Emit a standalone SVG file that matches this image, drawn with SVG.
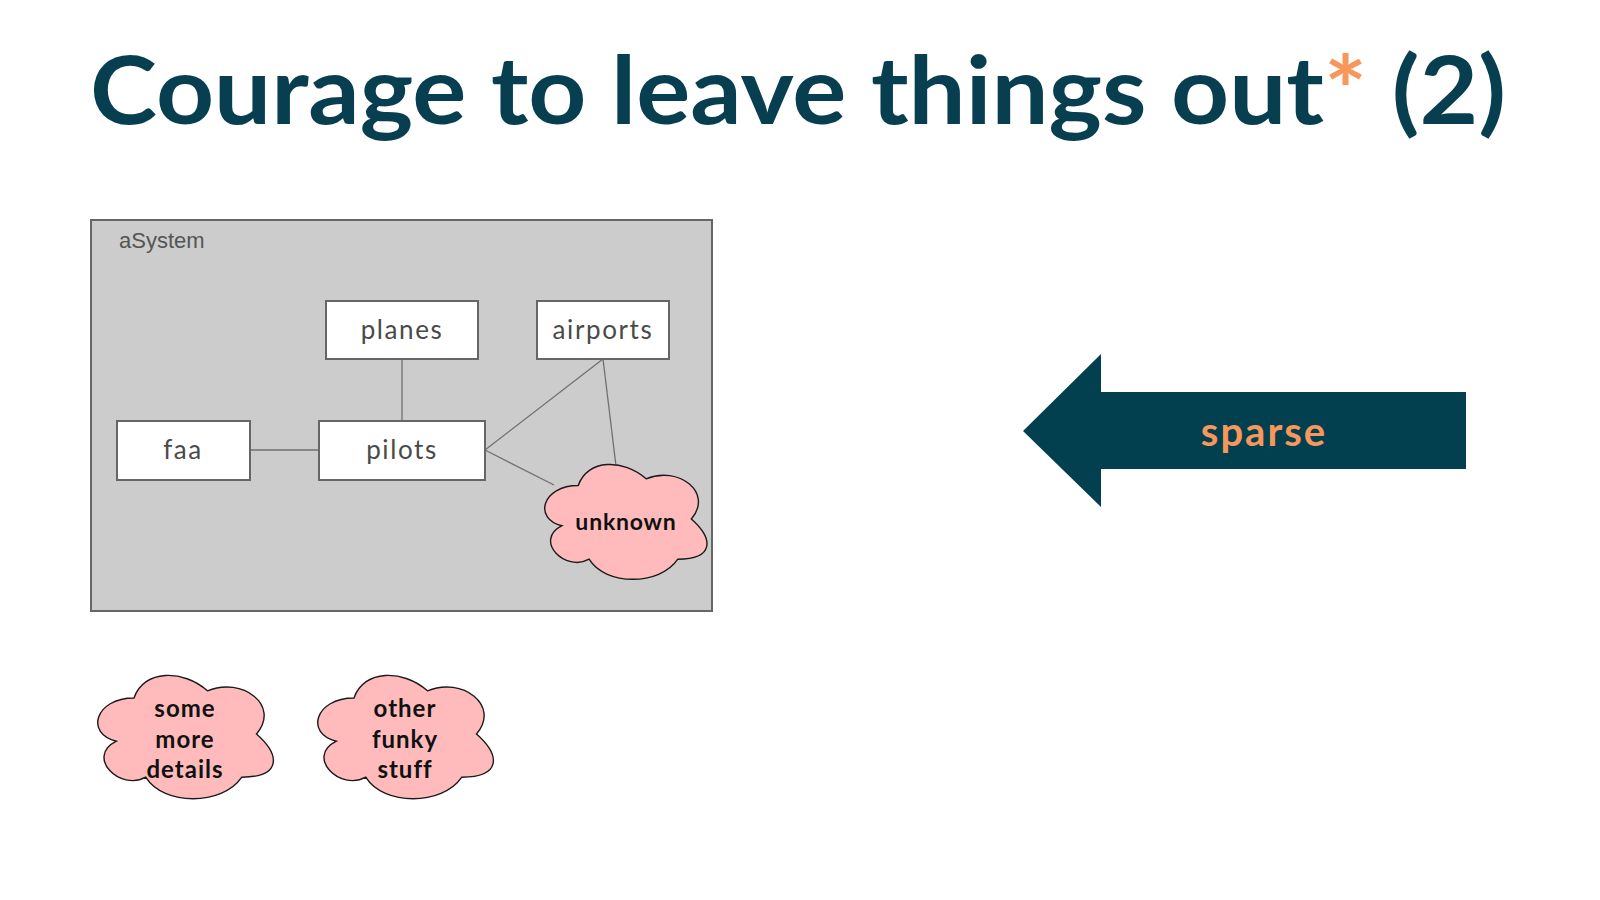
<svg xmlns="http://www.w3.org/2000/svg" xmlns:xlink="http://www.w3.org/1999/xlink" width="1600" height="900" viewBox="0 0 1600 900">
<style>
.box{fill:#ffffff;stroke:#666666;stroke-width:2}
.lbl{font-family:Lato,"Noto Sans",sans-serif;font-size:26px;fill:#4a4a4a;text-anchor:middle;letter-spacing:1.6px}
.cl{fill:#ffbbbb;stroke:#1a1a1a;stroke-width:1.4;vector-effect:non-scaling-stroke}
.ct{font-family:Lato,"Noto Sans",sans-serif;font-weight:700;font-size:24px;fill:#111111;text-anchor:middle;letter-spacing:1px}
.edge{stroke:#707070;stroke-width:1.3;fill:none}
</style>
<defs>
<path id="cloud" class="cl" d="M25 25 C5 25 0 50 16 55 C0 66 18 90 31 80 C40 100 70 100 80 80 C100 80 100 65 87.5 50 C100 30 80 10 62.5 20 C50 5 30 5 25 25 Z"/>
</defs>
<rect width="1600" height="900" fill="#ffffff"/>
<g id="title">
<text x="90" y="124" font-family="Lato,'Noto Sans',sans-serif" font-weight="700" font-size="94" fill="#073f50" textLength="1416" lengthAdjust="spacingAndGlyphs">Courage to leave things out<tspan fill="#f7975c">*</tspan> (2)</text>
</g>
<g id="aSystem">
<rect x="91" y="220" width="621" height="391" fill="#cccccc" stroke="#666666" stroke-width="2"/>
<text x="119" y="248" font-family="'Liberation Sans',Arial,sans-serif" font-size="22" fill="#555555">aSystem</text>
</g>
<g id="connectors">
<line class="edge" x1="402" y1="359" x2="402" y2="421"/>
<line class="edge" x1="250" y1="450" x2="319" y2="450"/>
<line class="edge" x1="485" y1="450" x2="603" y2="359"/>
<line class="edge" x1="603" y1="359" x2="616" y2="466"/>
<line class="edge" x1="485" y1="450" x2="554" y2="485"/>
</g>
<g id="planes"><rect class="box" x="326" y="301" width="152" height="58"/><text class="lbl" x="402" y="339">planes</text></g>
<g id="airports"><rect class="box" x="537" y="301" width="132" height="58"/><text class="lbl" x="603" y="339">airports</text></g>
<g id="faa"><rect class="box" x="117" y="421" width="133" height="59"/><text class="lbl" x="183" y="459">faa</text></g>
<g id="pilots"><rect class="box" x="319" y="421" width="166" height="59"/><text class="lbl" x="402" y="459">pilots</text></g>
<g id="unknown">
<use xlink:href="#cloud" transform="translate(533 452) scale(1.81 1.34)"/>
<text class="ct" x="626" y="530" style="font-size:23px;letter-spacing:0.8px">unknown</text>
</g>
<g id="some-more-details">
<use xlink:href="#cloud" transform="translate(85 662) scale(1.96 1.44)"/>
<text class="ct" x="185" y="717">some</text>
<text class="ct" x="185" y="748">more</text>
<text class="ct" x="185" y="778">details</text>
</g>
<g id="other-funky-stuff">
<use xlink:href="#cloud" transform="translate(305 662) scale(1.96 1.44)"/>
<text class="ct" x="405" y="717">other</text>
<text class="ct" x="405" y="748">funky</text>
<text class="ct" x="405" y="778">stuff</text>
</g>
<g id="sparse">
<polygon points="1023,431 1101,354 1101,392 1466,392 1466,469 1101,469 1101,507" fill="#03404f"/>
<text x="1264" y="446" font-family="Lato,'Noto Sans',sans-serif" font-weight="700" font-size="40" fill="#f7975c" text-anchor="middle" letter-spacing="2">sparse</text>
</g>
</svg>
